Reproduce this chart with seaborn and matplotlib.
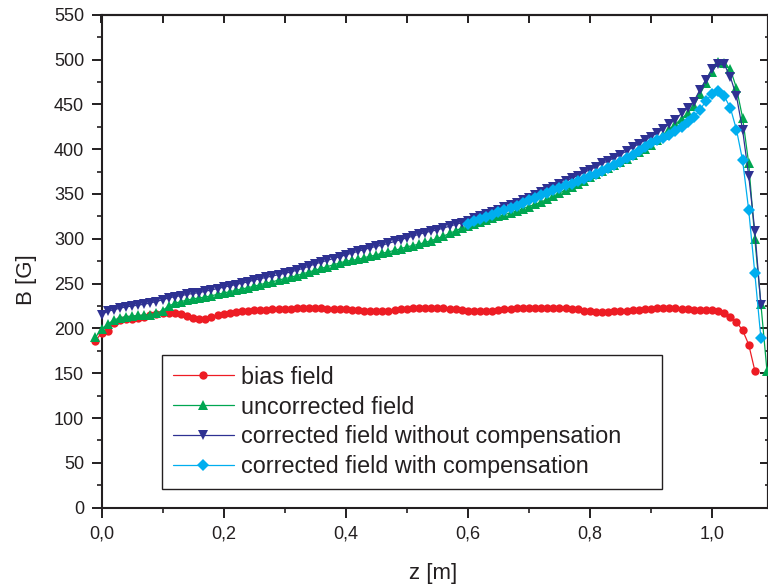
import numpy as np
import pandas as pd
import matplotlib
matplotlib.use("Agg")
import matplotlib.pyplot as plt
import seaborn as sns
from matplotlib.ticker import MultipleLocator, FuncFormatter

# ---------------- data ----------------
z_bias = np.round(np.arange(-0.01, 1.075, 0.01), 2)
bias_field = [
    186, 195, 197, 206, 209, 210, 211, 212, 213, 215,
    216, 217, 217.5, 217.5, 216, 213.5, 212, 211, 211, 212.5,
    215, 216.5, 217.5, 218, 219, 219.5, 220.5, 221, 221, 221.5,
    222, 222, 222, 222.5, 222.5, 223, 223, 222.5, 222, 222,
    222, 221.5, 221, 220.5, 220, 219, 219, 219, 220, 221,
    221.5, 222, 222.5, 223, 223, 223, 223, 222.5, 222, 221.5,
    221, 220, 219.5, 219, 219, 219.5, 220.5, 221.5, 222, 222.5,
    223, 223, 223, 223, 223, 223, 222.5, 222.5, 222, 221.5,
    220, 219, 218.5, 218.5, 218.5, 219, 219.5, 220, 220.5, 221,
    221.5, 222, 223, 223, 223, 222.5, 222, 221.5, 221, 221,
    221, 220.5, 219.5, 217, 213, 207, 198, 182, 153,
]

z_uncorr = np.round(np.arange(-0.01, 1.095, 0.01), 2)
uncorrected_field = [
    190, 199, 205, 209, 212, 213, 214, 214.5, 215, 215.5,
    217, 220, 225, 228, 230, 231.5, 233, 234, 235, 236.5,
    238, 239.5, 241, 242.5, 244, 245.5, 247, 249, 250.5, 252,
    254, 255.5, 257, 259, 261, 263, 265, 267, 269, 271,
    273, 275, 276, 277, 279, 280.5, 282, 284, 285.5, 287,
    289, 291, 292.5, 294, 296, 298, 300.5, 303, 306, 309,
    312, 314.5, 317, 319, 321, 323, 325, 327, 329, 331,
    333.5, 336, 338.5, 341, 344, 347.5, 351, 354.5, 358, 361.5,
    365, 368.5, 372, 375.5, 379, 382.5, 386, 389.5, 393, 396.5,
    400.5, 405, 410, 416, 422, 428, 434, 440, 448, 461,
    474, 486, 497, 496, 489, 468, 435, 384, 300, 227,
    152,
]

z_corr = np.round(np.arange(0.0, 1.085, 0.01), 2)
corrected_no_comp = [
    215.5, 219, 221, 222.5, 224, 225, 226, 227, 228.5, 230,
    232, 234, 235.5, 236.5, 238, 239, 240, 241.5, 243, 244.5,
    246, 247.5, 249, 250.5, 252, 254, 255.5, 257, 258.5, 260,
    261.5, 263, 265, 267, 269.5, 272, 274, 276, 278, 280,
    282, 284, 286, 288, 290, 291.5, 293, 295, 297, 299,
    301, 303, 305, 307, 308.5, 310, 312, 314, 316, 318,
    320, 323, 325.5, 328, 330, 332.5, 335, 337.5, 340, 343,
    346, 349, 352, 355, 358, 361, 364, 367.5, 370.5, 374,
    377, 380.5, 384, 387, 390.5, 394, 398, 402, 406, 410,
    414, 418, 423, 428, 433, 440, 446, 453, 466, 477.5,
    489, 494.5, 494.5, 480.5, 459, 421.5, 370.5, 309, 226,
]

z_comp = np.round(np.arange(0.60, 1.085, 0.01), 2)
corrected_comp = [
    317, 319.5, 322, 324.5, 327, 329.5, 332, 334.5, 337, 340,
    343, 345.5, 348.5, 351, 354, 357, 359.5, 361.5, 364, 367,
    370, 372.5, 375.5, 379, 382.5, 386, 390, 394, 398, 402.5,
    406.5, 410, 413, 416, 420, 425, 430.5, 436, 443.5, 454,
    461.5, 464.5, 459, 446, 421.5, 387.5, 332, 261.5, 189,
]

labels = ["bias field", "uncorrected field",
          "corrected field without compensation",
          "corrected field with compensation"]
colors = ["#ED1C24", "#00A651", "#2E3192", "#00AEEF"]
markers = ["o", "^", "v", "D"]
msizes = [6.0, 7.2, 7.2, 5.8]

x_ticks = [0.0, 0.2, 0.4, 0.6, 0.8, 1.0]
y_ticks = list(range(0, 551, 50))

# ---------------- style ----------------
sns.set_theme(style="ticks")
TXT = "#231F20"
plt.rcParams["font.family"] = ["Liberation Sans", "DejaVu Sans"]
plt.rcParams["text.color"] = TXT
plt.rcParams["axes.labelcolor"] = TXT
plt.rcParams["xtick.color"] = TXT
plt.rcParams["ytick.color"] = TXT

W, H = 768, 588
fig = plt.figure(figsize=(W / 100, H / 100), dpi=100)
ax_l, ax_r, ax_t, ax_b = 101.5, 768.0, 14.7, 507.7
ax = fig.add_axes([ax_l / W, (H - ax_b) / H, (ax_r - ax_l) / W, (ax_b - ax_t) / H])

series = [
    (z_bias, bias_field),
    (z_uncorr, uncorrected_field),
    (z_corr, corrected_no_comp),
    (z_comp, corrected_comp),
]
for (zz, vv), lab, col, mk, ms in zip(series, labels, colors, markers, msizes):
    df = pd.DataFrame({"z": zz, "B": vv})
    sns.lineplot(data=df, x="z", y="B", ax=ax, color=col, marker=mk,
                 markersize=ms, markeredgewidth=0, linewidth=0.9,
                 estimator=None, sort=False, label=lab, clip_on=False,
                 zorder=3)

ax.set_xlim(0.0, 1.0916)
ax.set_ylim(0, 550)

fmt = FuncFormatter(lambda v, p: f"{v:.1f}".replace(".", ","))
ax.set_xticks(x_ticks)
ax.xaxis.set_major_formatter(fmt)
ax.xaxis.set_minor_locator(MultipleLocator(0.1))
ax.set_yticks(y_ticks)
ax.yaxis.set_minor_locator(MultipleLocator(25))

for s in ax.spines.values():
    s.set_visible(True)
    s.set_linewidth(1.5)
    s.set_color(TXT)

ax.tick_params(which="major", direction="out", length=7, width=1.4,
               labelsize=13, pad=5.5, colors=TXT)
ax.tick_params(which="minor", direction="out", length=3.5, width=1.2, colors=TXT)

top = ax.secondary_xaxis("top")
top.set_xticks(np.round(np.arange(0.0, 1.09, 0.1), 1))
top.set_xticklabels([])
top.tick_params(direction="in", length=6, width=1.4, colors=TXT)
top.spines["top"].set_linewidth(1.5)

right = ax.secondary_yaxis("right")
right.set_yticks(y_ticks)
right.set_yticklabels([])
right.yaxis.set_minor_locator(MultipleLocator(25))
right.tick_params(which="major", direction="in", length=6, width=1.4, colors=TXT)
right.tick_params(which="minor", direction="in", length=2, width=1.2, colors=TXT)
right.spines["right"].set_linewidth(1.5)

ax.set_xlabel("z [m]", fontsize=16)
ax.set_ylabel("B [G]", fontsize=16)
axw, axh = ax_r - ax_l, ax_b - ax_t
ax.xaxis.set_label_coords((433 - ax_l) / axw, (ax_b - 563) / axh)
ax.yaxis.set_label_coords((37 - ax_l) / axw, (ax_b - 280) / axh)

# legend box 162..662 x, 355..487 y (pixels)
lx0, lx1, ly0, ly1 = 162, 662, 355, 487
leg = ax.legend(loc="upper left",
                bbox_to_anchor=((lx0 - ax_l) / axw, (ax_b - ly1) / axh,
                                (lx1 - lx0) / axw, (ly1 - ly0) / axh),
                mode="expand", borderaxespad=0, fontsize=16.8,
                handlelength=2.65, handletextpad=0.3, borderpad=0.45,
                labelspacing=0.30, frameon=True, fancybox=False,
                edgecolor=TXT, framealpha=1)
leg.get_frame().set_linewidth(1.0)
for t in leg.get_texts():
    t.set_color(TXT)

fig.savefig("out.png", dpi=100)
